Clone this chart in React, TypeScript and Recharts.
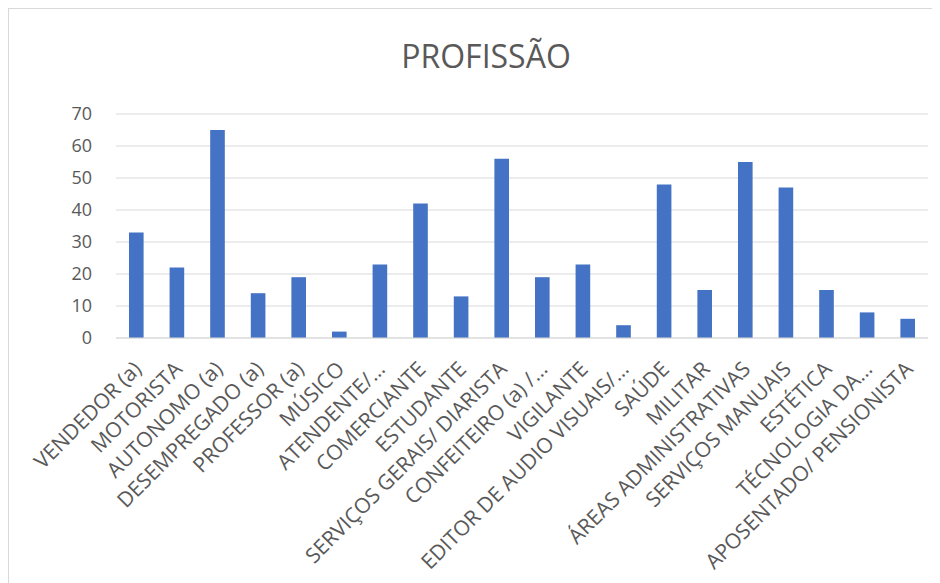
import React from 'react';
import { BarChart, Bar, XAxis, YAxis, CartesianGrid } from 'recharts';

const categories = [
  'VENDEDOR (a)', 'MOTORISTA', 'AUTONOMO (a)', 'DESEMPREGADO (a)', 'PROFESSOR (a)',
  'MÚSICO', 'ATENDENTE/…', 'COMERCIANTE', 'ESTUDANTE', 'SERVIÇOS GERAIS/ DIARISTA',
  'CONFEITEIRO (a) /…', 'VIGILANTE', 'EDITOR DE AUDIO VISUAIS/…', 'SAÚDE', 'MILITAR',
  'ÁREAS ADMINISTRATIVAS', 'SERVIÇOS MANUAIS', 'ESTÉTICA', 'TÉCNOLOGIA DA…', 'APOSENTADO/ PENSIONISTA',
];
const values = [33, 22, 65, 14, 19, 2, 23, 42, 13, 56, 19, 23, 4, 48, 15, 55, 47, 15, 8, 6];
const yTicks = [0, 10, 20, 30, 40, 50, 60, 70];

const data = categories.map((name, i) => ({ name, value: values[i] }));

const FONT = '"Open Sans", "Noto Sans", sans-serif';
const TEXT = '#595959';

// rotated category label, anchored at its end under the tick
const AngledTick = (props: any) => {
  const { x, y, payload } = props;
  return (
    <g transform={`translate(${x - 6},${y + 12})`}>
      <text
        transform="rotate(-45)"
        textAnchor="end"
        dominantBaseline="hanging"
        fontFamily={FONT}
        fontSize={21}
        fill={TEXT}
      >
        {payload.value}
      </text>
    </g>
  );
};

export default function App() {
  return (
    <div
      style={{
        width: 924,
        height: 590,
        border: '1px solid #d9d9d9',
        position: 'relative',
        background: '#fff',
      }}
    >
      <div
        style={{
          position: 'absolute',
          top: 25,
          left: 30,
          right: 0,
          textAlign: 'center',
          fontFamily: FONT,
          fontSize: 32,
          color: TEXT,
        }}
      >
        PROFISSÃO
      </div>
      <BarChart
        width={924}
        height={575}
        data={data}
        margin={{ top: 105, right: 5, bottom: 9, left: 0 }}
        barCategoryGap="68%"
      >
        <CartesianGrid vertical={false} stroke="#d9d9d9" strokeWidth={1} />
        <XAxis
          dataKey="name"
          interval={0}
          height={237}
          tick={<AngledTick />}
          tickLine={false}
          axisLine={{ stroke: '#d9d9d9' }}
        />
        <YAxis
          width={107}
          domain={[0, 70]}
          ticks={yTicks}
          axisLine={false}
          tickLine={false}
          tickMargin={18}
          tick={{ fill: TEXT, fontSize: 18, fontFamily: FONT }}
        />
        <Bar dataKey="value" fill="#4472c4" isAnimationActive={false} />
      </BarChart>
    </div>
  );
}
